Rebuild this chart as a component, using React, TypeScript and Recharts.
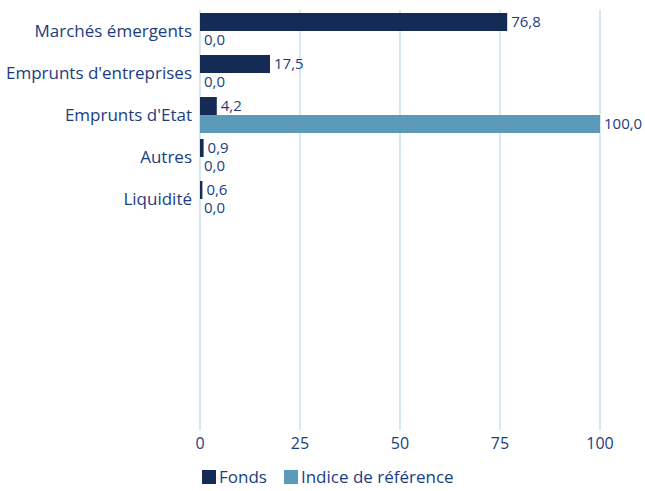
import { Bar, BarChart, CartesianGrid, LabelList, Legend, XAxis, YAxis } from "recharts";

const categories = [
  "Marchés émergents",
  "Emprunts d'entreprises",
  "Emprunts d'Etat",
  "Autres",
  "Liquidité",
  " ",
  "  ",
  "   ",
  "    ",
  "     ",
];
const fonds = [76.8, 17.5, 4.2, 0.9, 0.6, null, null, null, null, null];
const indice = [0.0, 0.0, 100.0, 0.0, 0.0, null, null, null, null, null];
const xTicks = [0, 25, 50, 75, 100];

const data = categories.map((name, i) => ({ name, Fonds: fonds[i], Indice: indice[i] }));

const textColor = "#1b3d80";
const font = "'Open Sans', sans-serif";

const fmt = (v: unknown) => (typeof v === "number" ? v.toFixed(1).replace(".", ",") : "");

const renderLegend = (props: any) => (
  <div style={{ display: "flex", alignItems: "center", fontSize: 17, fontFamily: font, color: textColor }}>
    {(props.payload || []).map((item: any, i: number) => (
      <div key={i} style={{ display: "flex", alignItems: "center", marginRight: 17 }}>
        <span style={{ display: "inline-block", width: 14, height: 14, background: item.color, marginRight: 3 }} />
        <span>{item.value}</span>
      </div>
    ))}
  </div>
);

export default function App() {
  return (
    <div style={{ position: "absolute", left: 0, top: 0, fontFamily: font }}>
      <BarChart
        width={645}
        height={491}
        data={data}
        layout="vertical"
        margin={{ top: 10, right: 45, bottom: 2, left: 0 }}
        barCategoryGap={3}
        barGap={0}
      >
        <CartesianGrid horizontal={false} stroke="#c8e2ec" strokeWidth={1.5} />
        <XAxis
          type="number"
          domain={[0, 100]}
          ticks={xTicks}
          axisLine={false}
          tickLine={false}
          tick={{ fontSize: 16, fill: textColor, fontFamily: font }}
          height={36}
        />
        <YAxis
          type="category"
          dataKey="name"
          width={200}
          axisLine={false}
          tickLine={false}
          interval={0}
          tick={{ fontSize: 17, fill: textColor, fontFamily: font }}
        />
        <Legend content={renderLegend} wrapperStyle={{ left: 202, width: "auto", bottom: 3 }} />
        <Bar dataKey="Fonds" name="Fonds" fill="#142b55" minPointSize={0.01} isAnimationActive={false}>
          <LabelList dataKey="Fonds" position="right" offset={4} formatter={fmt} style={{ fontSize: 15, fill: textColor, fontFamily: font }} />
        </Bar>
        <Bar dataKey="Indice" name="Indice de référence" fill="#5c9aba" minPointSize={0.01} isAnimationActive={false}>
          <LabelList dataKey="Indice" position="right" offset={4} formatter={fmt} style={{ fontSize: 15, fill: textColor, fontFamily: font }} />
        </Bar>
      </BarChart>
    </div>
  );
}
